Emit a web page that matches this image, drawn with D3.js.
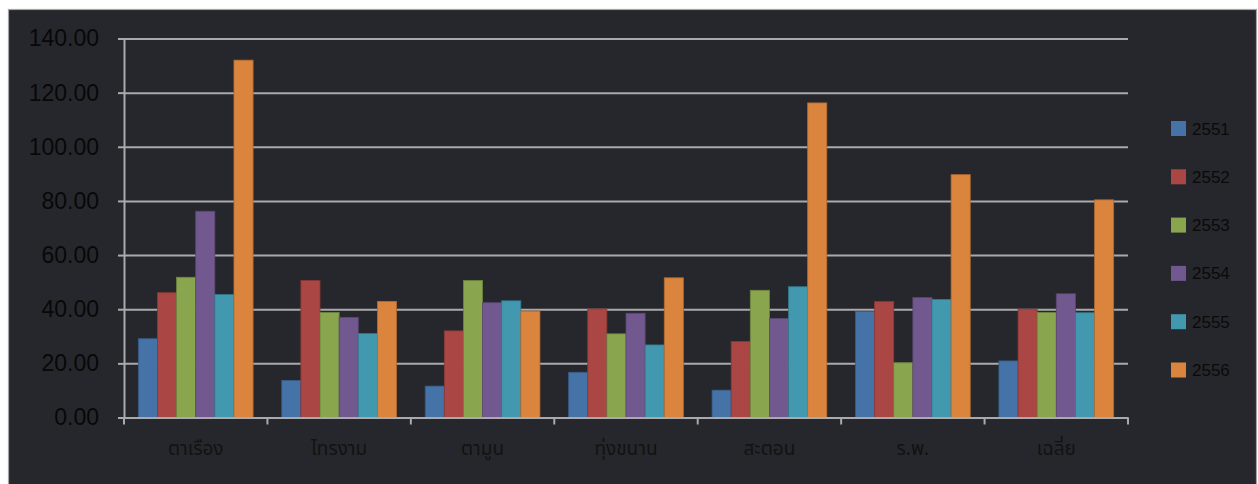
<!DOCTYPE html>
<html>
<head>
<meta charset="utf-8">
<script src="https://cdn.jsdelivr.net/npm/d3@7"></script>
<style>
  body { margin: 0; background: #fff; }
  text { font-family: "Liberation Sans", Arial, sans-serif; }
</style>
</head>
<body>
<svg width="1258" height="484"></svg>
<script>
const categories = ['ตาเรือง', 'ไทรงาม', 'ตามูน', 'ทุ่งขนาน', 'สะตอน', 'ร.พ.', 'เฉลี่ย'];
const years = ['2551', '2552', '2553', '2554', '2555', '2556'];
const colors = ['#4572a7', '#aa4643', '#89a54e', '#71588f', '#4198af', '#db843d'];
const v2551 = [29.1, 13.7, 11.6, 16.7, 10.1, 39.2, 20.9];
const v2552 = [46.1, 50.6, 32.0, 40.1, 28.1, 42.9, 40.0];
const v2553 = [51.8, 38.8, 50.6, 30.9, 47.0, 20.2, 38.8];
const v2554 = [76.2, 37.0, 42.4, 38.5, 36.6, 44.3, 45.7];
const v2555 = [45.4, 31.0, 43.1, 26.8, 48.3, 43.6, 38.7];
const v2556 = [132.0, 42.9, 39.3, 51.6, 116.2, 89.7, 80.4];
const yTicks = [0, 20, 40, 60, 80, 100, 120, 140];

const series = [v2551, v2552, v2553, v2554, v2555, v2556];
const data = categories.map((c, i) => ({
  cat: c,
  vals: years.map((y, j) => ({ year: y, value: series[j][i], color: colors[j] }))
}));

const svg = d3.select('svg');

// dark panel
svg.append('rect')
  .attr('x', 8.5).attr('y', 9.5)
  .attr('width', 1248).attr('height', 490)
  .attr('fill', '#26272c')
  .attr('stroke', '#a3a3a3')
  .attr('stroke-width', 1.2);

const plotL = 124, plotR = 1128, plotT = 38.5, plotB = 417.5;

const yScale = d3.scaleLinear().domain([0, 140]).range([plotB, plotT]);
const x0 = d3.scaleBand().domain(categories).range([plotL, plotR])
  .paddingInner(0.2).paddingOuter(0.1);
const x1 = d3.scaleBand().domain(years).range([0, x0.bandwidth()]);

// gridlines
const grid = svg.append('g')
  .attr('transform', `translate(${plotL},0)`)
  .call(d3.axisLeft(yScale).tickValues(yTicks).tickSize(-(plotR - plotL)).tickFormat(''));
grid.selectAll('.domain').remove();
grid.selectAll('.tick line').attr('stroke', '#aaaaac').attr('stroke-width', 2);

// y axis
const yAxisG = svg.append('g')
  .attr('transform', `translate(${plotL},0)`)
  .call(d3.axisLeft(yScale).tickValues(yTicks).tickSize(6).tickPadding(19).tickFormat(d3.format('.2f')));
yAxisG.selectAll('.domain').attr('stroke', '#aaaaac').attr('stroke-width', 2);
yAxisG.selectAll('.tick line').attr('stroke', '#aaaaac').attr('stroke-width', 2);
yAxisG.selectAll('.tick text')
  .attr('fill', '#080808')
  .style('font-size', '23px')
  .style('font-family', '"Liberation Sans", Arial, sans-serif');

// bars
const groups = svg.append('g').selectAll('g').data(data)
  .enter().append('g')
  .attr('transform', d => `translate(${x0(d.cat)},0)`);

groups.selectAll('rect').data(d => d.vals)
  .enter().append('rect')
  .attr('x', d => x1(d.year))
  .attr('y', d => yScale(d.value))
  .attr('width', x1.bandwidth())
  .attr('height', d => plotB - yScale(d.value))
  .attr('fill', d => d.color)
  .attr('stroke', d => d3.color(d.color).darker(0.6))
  .attr('stroke-width', 0.8);

// x axis
const xAxisG = svg.append('g')
  .attr('transform', `translate(0,${plotB})`)
  .call(d3.axisBottom(x0).tickSize(0).tickPadding(24));
xAxisG.selectAll('.domain').attr('stroke', '#aaaaac').attr('stroke-width', 2);
xAxisG.selectAll('.tick text')
  .attr('fill', '#121212')
  .style('font-size', '19px')
  .style('font-family', '"Noto Sans Thai", "Loma", "Tlwg Typo", sans-serif');

// boundary ticks on x axis
const bounds = categories.map(c => x0(c) - x0.step() * x0.paddingOuter()).concat([plotR]);
xAxisG.selectAll('.bound').data(bounds)
  .enter().append('line')
  .attr('class', 'bound')
  .attr('x1', d => d).attr('x2', d => d)
  .attr('y1', 0).attr('y2', 7)
  .attr('stroke', '#aaaaac').attr('stroke-width', 2);

// legend
const legend = svg.append('g').selectAll('g').data(years)
  .enter().append('g')
  .attr('transform', (d, i) => `translate(1171,${128.5 + i * 48.3})`);
legend.append('rect')
  .attr('x', 0).attr('y', -7.5)
  .attr('width', 15).attr('height', 15)
  .attr('fill', (d, i) => colors[i]);
legend.append('text')
  .attr('x', 21).attr('y', 6)
  .attr('fill', '#0a0a0a')
  .style('font-size', '17px')
  .text(d => d);
</script>
</body>
</html>
